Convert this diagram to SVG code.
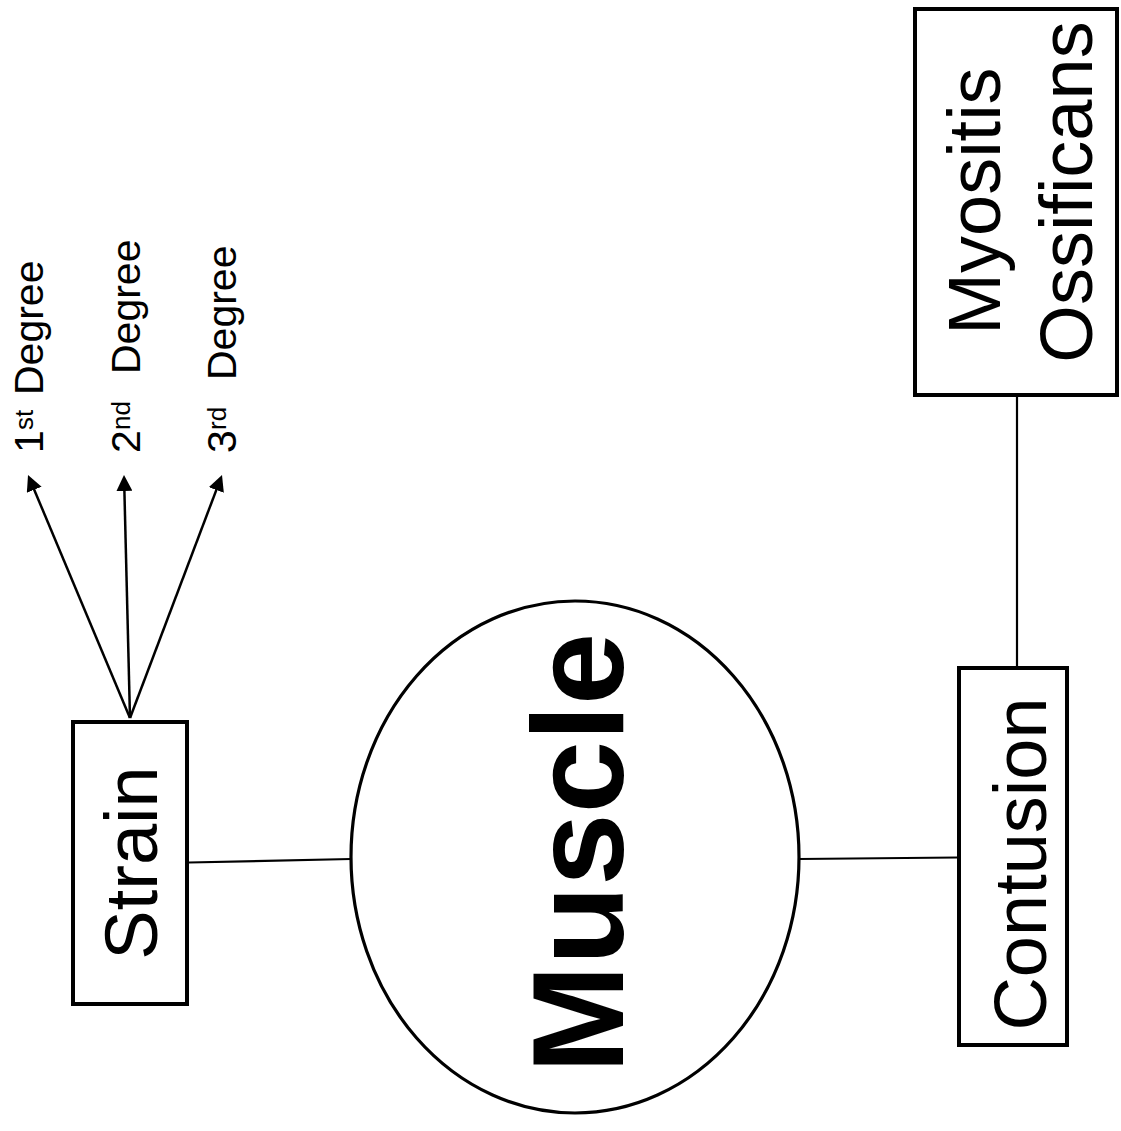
<svg xmlns="http://www.w3.org/2000/svg" width="1121" height="1131" viewBox="0 0 1121 1131">
<style>
.box{fill:#fff;stroke:#000;stroke-width:4}
.ell{fill:#fff;stroke:#000;stroke-width:3.2}
.con{stroke:#000;stroke-width:2.2;fill:none}
.arr{stroke:#000;stroke-width:2.5;fill:none;marker-end:url(#ah)}
.lbl{font-family:"Liberation Sans",Arial,sans-serif;fill:#000}
.big{font-size:74px;text-anchor:middle}
.deg{font-size:41px}
.sup{font-size:26px}
.bold{font-size:130px;font-weight:bold;text-anchor:middle}
</style>
<defs>
<marker id="ah" viewBox="0 0 16 16" refX="6" refY="8" markerWidth="16" markerHeight="16" markerUnits="userSpaceOnUse" orient="auto">
<path d="M0,0 L16,8 L0,16 z" fill="#000"/>
</marker>
</defs>
<rect width="1121" height="1131" fill="#fff"/>
<g id="connectors">
<line class="con" x1="189" y1="862.5" x2="351" y2="859"/>
<line class="con" x1="799" y1="859" x2="958" y2="857.5"/>
<line class="con" x1="1017" y1="395" x2="1017" y2="667"/>
<line class="arr" x1="130" y1="718" x2="31.9" y2="484.2"/>
<line class="arr" x1="130" y1="718" x2="124.25" y2="485"/>
<line class="arr" x1="130" y1="718" x2="218.46" y2="484.35"/>
</g>
<g id="muscle">
<ellipse class="ell" cx="575" cy="857" rx="224" ry="256"/>
<text class="lbl bold" transform="translate(623,853) rotate(-90)">Muscle</text>
</g>
<g id="strain">
<rect class="box" x="73" y="722" width="114" height="282"/>
<text class="lbl big" transform="translate(157,863) rotate(-90)">Strain</text>
</g>
<g id="contusion">
<rect class="box" x="959" y="668" width="108" height="377"/>
<text class="lbl big" transform="translate(1046,864) rotate(-90)">Contusion</text>
</g>
<g id="myositis">
<rect class="box" x="915" y="9" width="202" height="386"/>
<text class="lbl big" transform="translate(1000,201) rotate(-90)">Myositis</text>
<text class="lbl big" transform="translate(1092,192) rotate(-90)">Ossificans</text>
</g>
<g id="deg1">
<text class="lbl deg" transform="translate(43,453) rotate(-90)"><tspan x="0" y="0">1</tspan><tspan class="sup" x="23" y="-10">st</tspan><tspan x="58" y="0">Degree</tspan></text>
</g>
<g id="deg2">
<text class="lbl deg" transform="translate(140,453) rotate(-90)"><tspan x="0" y="0">2</tspan><tspan class="sup" x="23" y="-10">nd</tspan><tspan x="79" y="0">Degree</tspan></text>
</g>
<g id="deg3">
<text class="lbl deg" transform="translate(236,453) rotate(-90)"><tspan x="0" y="0">3</tspan><tspan class="sup" x="23" y="-10">rd</tspan><tspan x="73" y="0">Degree</tspan></text>
</g>
</svg>
